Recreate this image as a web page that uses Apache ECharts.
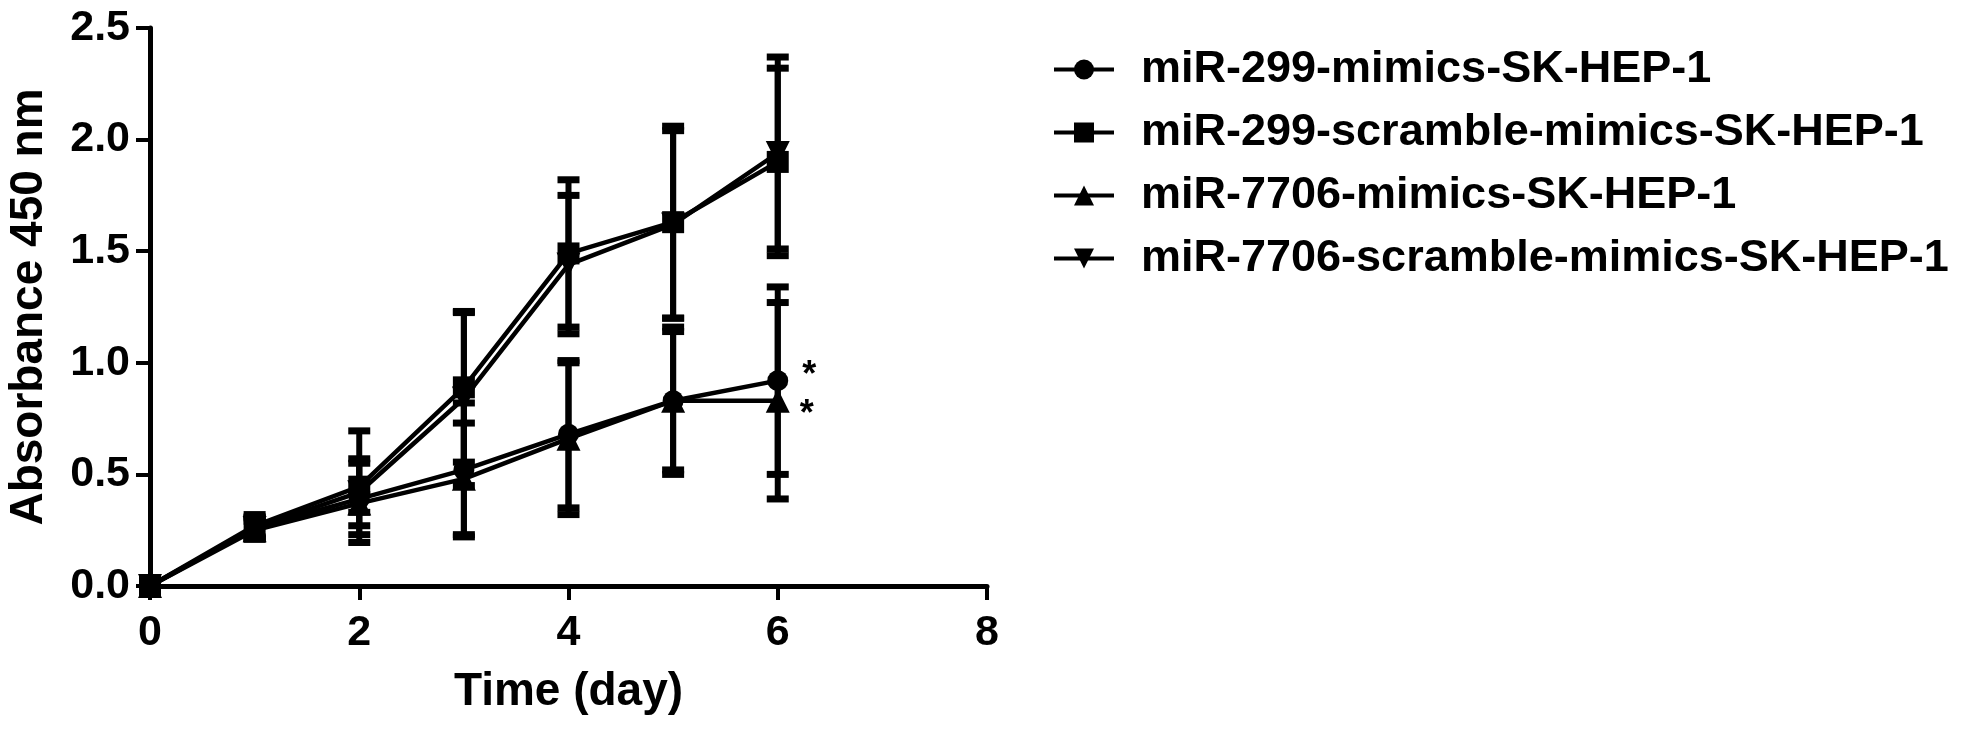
<!DOCTYPE html>
<html>
<head>
<meta charset="utf-8">
<title>Absorbance 450 nm</title>
<script src="https://cdn.jsdelivr.net/npm/echarts@6.0.0/dist/echarts.min.js"></script>
<style>
  html, body { margin: 0; padding: 0; background: #fff; }
  #chart { width: 1964px; height: 731px; }
</style>
</head>
<body>
<div id="chart"></div>
<script>
// values (mean and error per day)
const days = [0, 1, 2, 3, 4, 5, 6]
const xTicks = [0, 2, 4, 6, 8]
const yTicks = [0, 0.5, 1.0, 1.5, 2.0, 2.5]

const seriesNames = [
  'miR-299-mimics-SK-HEP-1',
  'miR-299-scramble-mimics-SK-HEP-1',
  'miR-7706-mimics-SK-HEP-1',
  'miR-7706-scramble-mimics-SK-HEP-1'
]
const mimics299 = [0, 0.26, 0.39, 0.52, 0.68, 0.83, 0.92]
const mimics299Err = [0, 0.045, 0.16, 0.30, 0.33, 0.31, 0.42]
const scramble299 = [0, 0.27, 0.445, 0.89, 1.49, 1.63, 1.90]
const scramble299Err = [0, 0.05, 0.25, 0.335, 0.33, 0.43, 0.42]
const mimics7706 = [0, 0.25, 0.37, 0.48, 0.66, 0.83, 0.83]
const mimics7706Err = [0, 0.04, 0.04, 0.25, 0.34, 0.33, 0.44]
const scramble7706 = [0, 0.26, 0.42, 0.84, 1.44, 1.62, 1.94]
const scramble7706Err = [0, 0.05, 0.15, 0.39, 0.31, 0.42, 0.43]
// significance marks on the last day
const mimics299Sig = ['', '', '', '', '', '', '*']
const mimics7706Sig = ['', '', '', '', '', '', '*']

const font = "'Liberation Sans', Arial, sans-serif"
const black = '#000'

function renderErrorBar(params, api) {
  const x = api.value(0)
  const y = api.value(1)
  const e = api.value(2)
  if (!e) return
  const hi = api.coord([x, y + e])
  const lo = api.coord([x, y - e])
  const half = 11
  const cap = { stroke: black, lineWidth: 7 }
  return {
    type: 'group',
    children: [
      { type: 'line', shape: { x1: hi[0], y1: hi[1], x2: lo[0], y2: lo[1] }, style: { stroke: black, lineWidth: 6 } },
      { type: 'line', shape: { x1: hi[0] - half, y1: hi[1], x2: hi[0] + half, y2: hi[1] }, style: cap },
      { type: 'line', shape: { x1: lo[0] - half, y1: lo[1], x2: lo[0] + half, y2: lo[1] }, style: cap }
    ]
  }
}

function errorSeries(name, values, errs) {
  return {
    name: name + ' err',
    type: 'custom',
    renderItem: renderErrorBar,
    data: days.map((d, i) => [d, values[i], errs[i]]),
    clip: false,
    z: 2,
    silent: true
  }
}

function lineSeries(name, values, symbol, size, rotate, sig, sigOffset) {
  return {
    name: name,
    type: 'line',
    data: days.map((d, i) => {
      const item = { value: [d, values[i]] }
      if (sig && sig[i]) {
        item.label = {
          show: true,
          formatter: sig[i],
          position: 'right',
          distance: 14,
          offset: sigOffset,
          color: black,
          fontFamily: font,
          fontWeight: 'bold',
          fontSize: 36
        }
      }
      return item
    }),
    symbol: symbol,
    symbolSize: size,
    symbolRotate: rotate,
    showAllSymbol: true,
    clip: false,
    z: 3,
    lineStyle: { color: black, width: 4.5 },
    itemStyle: { color: black, borderWidth: 0 },
    emphasis: { disabled: true }
  }
}

const chart = echarts.init(document.getElementById('chart'))

chart.setOption({
  animation: false,
  backgroundColor: '#fff',
  textStyle: { fontFamily: font, color: black },
  grid: {
    left: 150,
    right: 977,
    top: 28,
    bottom: 145
  },
  legend: {
    data: seriesNames,
    orient: 'vertical',
    left: 1047,
    top: 42,
    itemWidth: 60,
    itemHeight: 25,
    itemGap: 18,
    lineStyle: { width: 4 },
    textStyle: {
      fontFamily: font,
      fontWeight: 'bold',
      fontSize: 45,
      lineHeight: 45,
      color: black,
      padding: [0, 0, 0, 22]
    }
  },
  xAxis: {
    type: 'value',
    min: xTicks[0],
    max: xTicks[xTicks.length - 1],
    interval: xTicks[1] - xTicks[0],
    name: 'Time (day)',
    nameLocation: 'middle',
    nameGap: 83,
    nameTextStyle: { fontFamily: font, fontWeight: 'bold', fontSize: 46, color: black },
    axisLine: { lineStyle: { color: black, width: 5 } },
    axisTick: { length: 14, lineStyle: { color: black, width: 4 } },
    axisLabel: { margin: 26, fontFamily: font, fontWeight: 'bold', fontSize: 43, color: black },
    splitLine: { show: false }
  },
  yAxis: {
    type: 'value',
    min: yTicks[0],
    max: yTicks[yTicks.length - 1],
    interval: yTicks[1] - yTicks[0],
    name: 'Absorbance 450 nm',
    nameLocation: 'middle',
    nameRotate: 90,
    nameGap: 98,
    nameTextStyle: { fontFamily: font, fontWeight: 'bold', fontSize: 46, color: black },
    axisLine: { show: true, lineStyle: { color: black, width: 5 } },
    axisTick: { show: true, length: 14, lineStyle: { color: black, width: 4 } },
    axisLabel: {
      margin: 20,
      fontFamily: font,
      fontWeight: 'bold',
      fontSize: 43,
      color: black,
      formatter: v => v.toFixed(1)
    },
    splitLine: { show: false }
  },
  series: [
    errorSeries(seriesNames[0], mimics299, mimics299Err),
    errorSeries(seriesNames[1], scramble299, scramble299Err),
    errorSeries(seriesNames[2], mimics7706, mimics7706Err),
    errorSeries(seriesNames[3], scramble7706, scramble7706Err),
    lineSeries(seriesNames[0], mimics299, 'circle', 21, 0, mimics299Sig, [0, -5]),
    lineSeries(seriesNames[1], scramble299, 'rect', 22, 0),
    lineSeries(seriesNames[2], mimics7706, 'triangle', 24, 0, mimics7706Sig, [-4, 14]),
    lineSeries(seriesNames[3], scramble7706, 'triangle', 24, 180)
  ]
})
</script>
</body>
</html>
